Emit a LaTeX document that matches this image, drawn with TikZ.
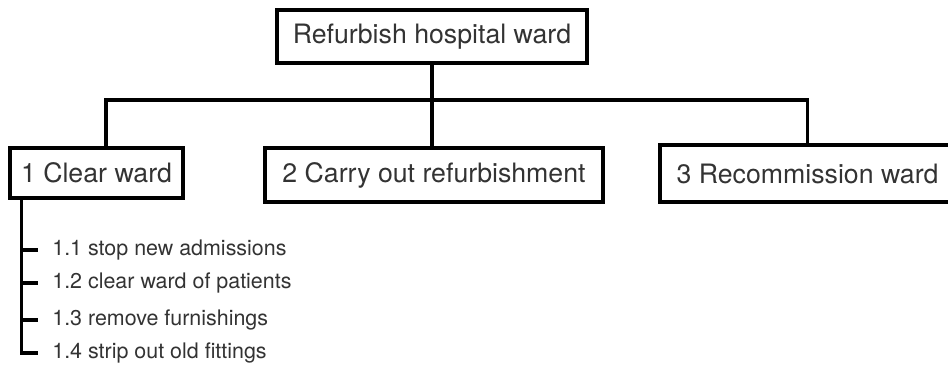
\documentclass[tikz,border=0pt]{standalone}
\usepackage{fontspec}
\setmainfont{TeX Gyre Heros}
\usetikzlibrary{positioning}
\tikzset{
  frame/.style={
    rectangle, draw, line width=1.9pt,
    text=black!80, inner sep=0pt,
    font=\fontsize{15.2}{18}\selectfont,
  },
  line/.style={
    draw, line width=1.9pt,
  },
  task/.style={
    anchor=west, inner sep=0pt, text=black!80,
    font=\fontsize{12.2}{14}\selectfont,
  }
}

\begin{document}
\begin{tikzpicture}[x=0.02cm,y=-0.02cm]
\useasboundingbox (0,0) rectangle (948,365);
\node [frame, minimum width=6.2cm, minimum height=1.06cm] (ward) at (432,36.5) {Refurbish hospital ward};
\node [frame, minimum width=3.46cm, minimum height=1.0cm] (clear) at (96.5,173) {1 Clear ward};
\node [frame, minimum width=6.76cm, minimum height=1.08cm] (refurb) at (434,175) {2 Carry out refurbishment};
\node [frame, minimum width=5.9cm, minimum height=1.14cm] (recomm) at (807.5,173.5) {3 Recommission ward};
\coordinate (bar) at (432,100);
\path [line] (ward.south) -- (ward.south |- refurb.north);
\path [line] ([xshift=0.19cm]clear.north) |- (bar) -| (recomm.north);
% sub tasks of 1
\node [task] (stop) at (52,250) {1.1 stop new admissions};
\node [task] (patients) at (52,283) {1.2 clear ward of patients};
\node [task] (furnish) at (52,320) {1.3 remove furnishings};
\node [task] (strip) at (52,353) {1.4 strip out old fittings};
\coordinate (trunk) at ([xshift=0.26cm]clear.south west);
\path [line] (trunk) |- ([xshift=-0.28cm]strip.west);
\foreach \t in {stop,patients,furnish}
  \path [line] (trunk |- \t.west) -- ([xshift=-0.28cm]\t.west);
\end{tikzpicture}
\end{document}
